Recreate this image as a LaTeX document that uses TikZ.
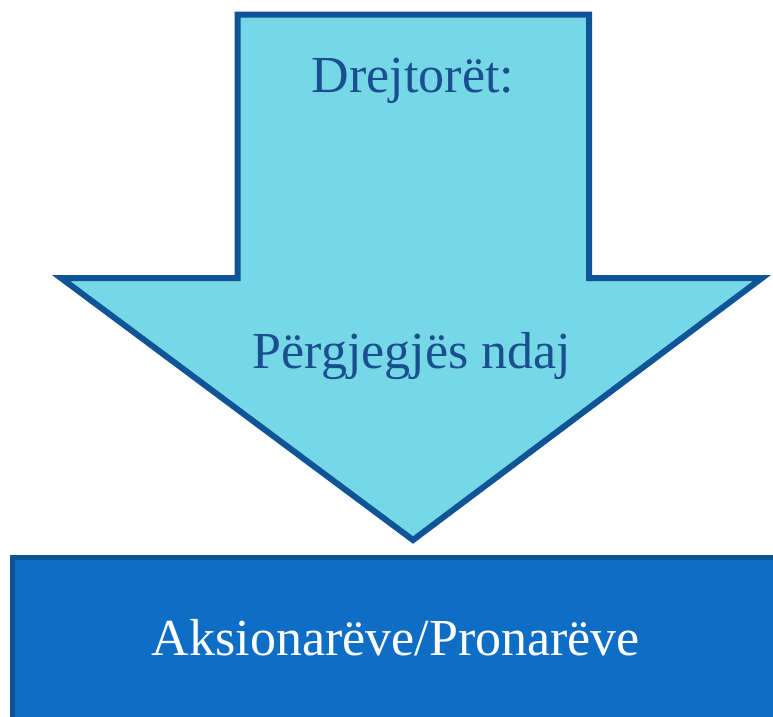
\documentclass[tikz,border=0pt]{standalone}
\usepackage{fontspec}
\setmainfont{Liberation Serif}
\definecolor{arrowfill}{HTML}{76D8E7}
\definecolor{arrowline}{HTML}{0E5496}
\definecolor{boxfill}{HTML}{0E6EC6}
\definecolor{boxline}{HTML}{0C5396}
\definecolor{darktext}{HTML}{1A4F8F}
\tikzset{
  arrowshape/.style={fill=arrowfill, draw=arrowline, line width=6pt, line join=miter},
  boxshape/.style={fill=boxfill, draw=boxline, line width=5pt},
  lbl/.style={font=\fontsize{52}{58}\selectfont, inner sep=0pt, anchor=base},
}
\begin{document}
\begin{tikzpicture}[x=1pt,y=-1pt]
\useasboundingbox (0,0) rectangle (773,716);
\fill[white] (0,0) rectangle (773,716);
\draw[arrowshape] (237.5,14.5) -- (589,14.5) -- (589,278) -- (762,278) -- (413,540) -- (61,278) -- (237.5,278) -- cycle;
\coordinate (tip) at (413,540);
\draw[boxshape] (12.5,557.5) -- (776,557.5) -- (776,719) -- (12.5,719) -- cycle;
\node[lbl, text=darktext] (t1) at (413,92) {Drejtorët:};
\node[lbl, text=darktext] (t2) at (412,368) {Përgjegjës ndaj};
\node[lbl, text=white] (t3) at (396,655) {Aksionarëve/Pronarëve};
\end{tikzpicture}
\end{document}
